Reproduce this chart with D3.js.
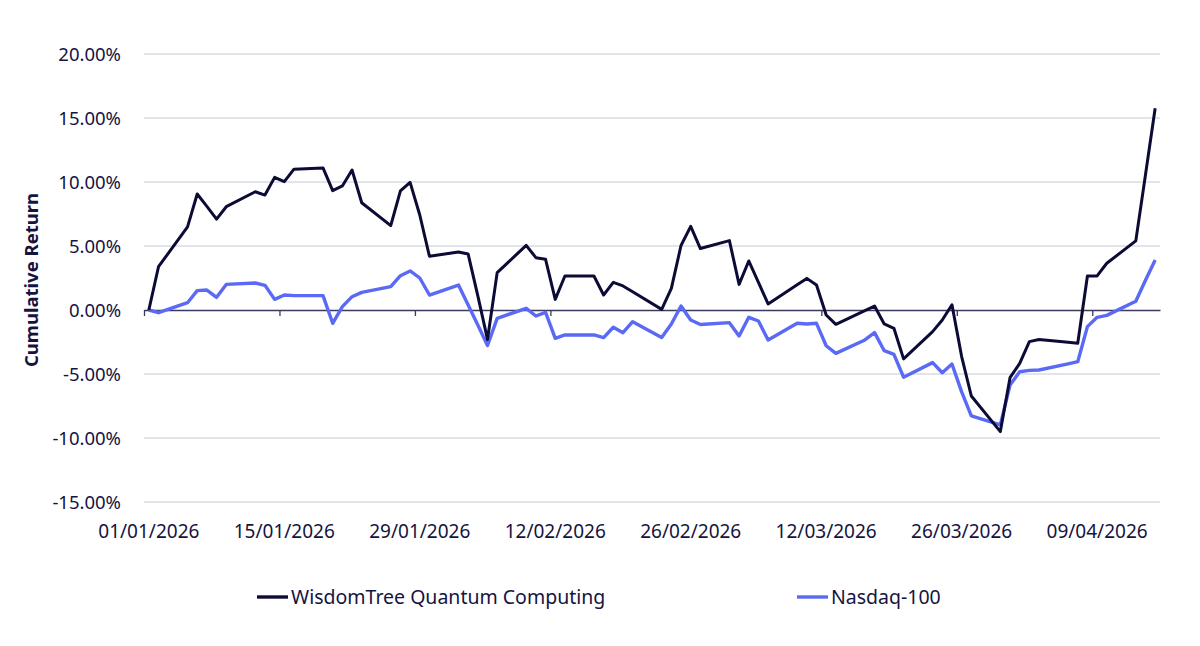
<!DOCTYPE html>
<html lang="en">
<head>
<meta charset="UTF-8">
<script src="https://d3js.org/d3.v7.min.js"></script>
<style>
    body { margin: 0; background: #fff; }
    text { font-family: "Noto Sans", sans-serif; fill: #15143f; }
</style>
<title>Cumulative Return</title>
</head>
<body>
<div class="canvas"></div>
<script>
// trading days (holidays carried forward)
const dates = [
    '2026-01-01','2026-01-02','2026-01-05','2026-01-06','2026-01-07','2026-01-08','2026-01-09',
    '2026-01-12','2026-01-13','2026-01-14','2026-01-15','2026-01-16','2026-01-19','2026-01-20',
    '2026-01-21','2026-01-22','2026-01-23','2026-01-26','2026-01-27','2026-01-28','2026-01-29',
    '2026-01-30','2026-02-02','2026-02-03','2026-02-04','2026-02-05','2026-02-06','2026-02-09',
    '2026-02-10','2026-02-11','2026-02-12','2026-02-13','2026-02-16','2026-02-17','2026-02-18',
    '2026-02-19','2026-02-20','2026-02-23','2026-02-24','2026-02-25','2026-02-26','2026-02-27',
    '2026-03-02','2026-03-03','2026-03-04','2026-03-05','2026-03-06','2026-03-09','2026-03-10',
    '2026-03-11','2026-03-12','2026-03-13','2026-03-16','2026-03-17','2026-03-18','2026-03-19',
    '2026-03-20','2026-03-23','2026-03-24','2026-03-25','2026-03-26','2026-03-27','2026-03-30',
    '2026-03-31','2026-04-01','2026-04-02','2026-04-03','2026-04-06','2026-04-07','2026-04-08',
    '2026-04-09','2026-04-10','2026-04-13','2026-04-14','2026-04-15'
]

// cumulative return, %
const quantum = [
    0, 3.38, 6.5, 9.06, 8.1, 7.1, 8.07,
    9.24, 8.98, 10.36, 10.03, 11.0, 11.1, 9.32,
    9.69, 10.94, 8.38, 6.59, 9.3, 9.97, 7.42,
    4.2, 4.53, 4.37, 1.1, -2.3, 2.92, 5.05,
    4.09, 3.96, 0.83, 2.66, 2.66, 1.17, 2.16,
    1.88, 1.43, 0.05, 1.69, 5.04, 6.53, 4.8,
    5.42, 2.0, 3.83, 2.16, 0.47, 1.98, 2.47,
    1.95, -0.39, -1.12, -0.05, 0.31, -1.09, -1.43,
    -3.82, -1.69, -0.78, 0.41, -3.64, -6.72, -9.5,
    -5.29, -4.17, -2.47, -2.3, -2.52, -2.6, 2.66,
    2.66, 3.65, 5.4, 10.57, 15.76
]

const nasdaq = [
    0, -0.21, 0.57, 1.51, 1.56, 0.99, 2.0,
    2.11, 1.93, 0.83, 1.17, 1.12, 1.12, -1.04,
    0.26, 1.04, 1.38, 1.82, 2.68, 3.05, 2.5,
    1.17, 1.95, 0.4, -1.17, -2.77, -0.65, 0.13,
    -0.47, -0.18, -2.21, -1.95, -1.95, -2.16, -1.35,
    -1.77, -0.91, -2.14, -1.09, 0.31, -0.78, -1.13,
    -0.99, -2.03, -0.57, -0.86, -2.34, -1.04, -1.09,
    -1.04, -2.79, -3.39, -2.34, -1.77, -3.18, -3.46,
    -5.25, -4.11, -4.9, -4.22, -6.4, -8.28, -8.98,
    -5.86, -4.82, -4.72, -4.69, -4.21, -4.04, -1.3,
    -0.57, -0.42, 0.68, 2.32, 3.91
]

const xTicks = ['2026-01-01','2026-01-15','2026-01-29','2026-02-12','2026-02-26','2026-03-12','2026-03-26','2026-04-09']
const yTicks = [-15, -10, -5, 0, 5, 10, 15, 20]
const seriesNames = ['WisdomTree Quantum Computing', 'Nasdaq-100']

const areaWidth = 1200
const areaHeight = 646
const colors = ['#0c0b35', '#5a6af4']

const svg = d3.select('.canvas')
    .append('svg')
    .attr('width', areaWidth)
    .attr('height', areaHeight)

const parse = d3.utcParse('%Y-%m-%d')
const halfDay = 12 * 3600 * 1000

const x = d3.scaleUtc()
    .domain([parse('2026-01-01'), parse('2026-04-16')])
    .range([144, 1160])

const y = d3.scaleLinear()
    .domain([-15, 20])
    .range([502, 54])

// gridlines
svg.append('g')
    .selectAll('line')
    .data(yTicks.filter(d => d !== 0))
    .enter()
    .append('line')
    .attr('x1', 144)
    .attr('x2', 1160)
    .attr('y1', d => y(d))
    .attr('y2', d => y(d))
    .attr('stroke', '#d6dce6')
    .attr('stroke-width', 1.3)

// y labels
svg.append('g')
    .selectAll('text')
    .data(yTicks)
    .enter()
    .append('text')
    .attr('x', 121)
    .attr('y', d => y(d))
    .attr('dy', '0.36em')
    .attr('text-anchor', 'end')
    .style('font-size', '18.5px')
    .text(d => d.toFixed(2) + '%')

svg.append('text')
    .attr('transform', `translate(38,${(y(-15) + y(20)) / 2 + 2}) rotate(-90)`)
    .attr('text-anchor', 'middle')
    .style('font-size', '18.5px')
    .style('font-weight', 'bold')
    .text('Cumulative Return')

// zero axis with ticks
const xAxisG = svg.append('g')
    .attr('transform', `translate(0,${y(0)})`)
    .call(d3.axisBottom(x)
        .tickValues(xTicks.map(parse))
        .tickSize(6)
        .tickSizeOuter(0)
        .tickFormat(''))
xAxisG.select('.domain').attr('stroke', '#3a395e').attr('stroke-width', 1.3)
xAxisG.selectAll('.tick line').attr('stroke', '#3a395e').attr('stroke-width', 1.3)

// date labels, low position, centred on the day
svg.append('g')
    .selectAll('text')
    .data(xTicks)
    .enter()
    .append('text')
    .attr('x', d => x(new Date(+parse(d) + halfDay)))
    .attr('y', 538)
    .attr('text-anchor', 'middle')
    .style('font-size', '19px')
    .text(d => d3.utcFormat('%d/%m/%Y')(parse(d)))

// lines
const line = (values) => d3.line()
    .x((d, i) => x(new Date(+parse(dates[i]) + halfDay)))
    .y(d => y(d))(values)

svg.append('path')
    .attr('d', line(nasdaq))
    .attr('fill', 'none')
    .attr('stroke', colors[1])
    .attr('stroke-width', 3.4)
    .attr('stroke-linejoin', 'round')

svg.append('path')
    .attr('d', line(quantum))
    .attr('fill', 'none')
    .attr('stroke', colors[0])
    .attr('stroke-width', 3)
    .attr('stroke-linejoin', 'round')

// legend
const legendX = [257, 797]
const legend = svg.append('g')
    .selectAll('g')
    .data(seriesNames)
    .enter()
    .append('g')
    .attr('transform', (d, i) => `translate(${legendX[i]},597)`)

legend.append('line')
    .attr('x1', 0)
    .attr('x2', 31)
    .attr('stroke', (d, i) => colors[i])
    .attr('stroke-width', 3.4)

legend.append('text')
    .attr('x', 34)
    .attr('dy', '0.36em')
    .style('font-size', '19.5px')
    .text(d => d)
</script>
</body>
</html>
